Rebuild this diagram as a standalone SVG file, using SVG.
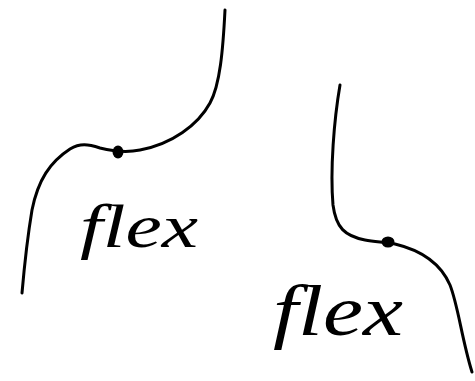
<svg xmlns="http://www.w3.org/2000/svg" width="475" height="381" viewBox="0 0 475 381">
<style>
.curve{fill:none;stroke:#000;stroke-width:3;stroke-linecap:round;stroke-linejoin:round}
.dot{fill:#000}
.lbl{font-family:"Liberation Serif","DejaVu Serif",serif;font-style:italic;fill:#000}
</style>
<rect width="475" height="381" fill="#fff"/>
<g id="sketch1">
<path class="curve" d="M225,10 C223,50 220,85 210,103 C198,125 172,144 140,150 C125,153 112,151 100,148 C88,144 80,143 70,149 C50,162 38,180 32,210 C27,240 24,270 22,293"/>
<ellipse class="dot" cx="118" cy="152" rx="5.5" ry="6.5"/>
<text class="lbl" x="80" y="247" font-size="62" textLength="118" lengthAdjust="spacingAndGlyphs">flex</text>
</g>
<g id="sketch2">
<path class="curve" d="M340,85 C334,120 330,170 333,205 C336,228 345,236 365,240 C375,242 385,242 395,244 C420,250 440,262 450,285 C458,305 462,340 472,372"/>
<ellipse class="dot" cx="388" cy="242" rx="6.5" ry="5.5"/>
<text class="lbl" x="273" y="335" font-size="72" textLength="130" lengthAdjust="spacingAndGlyphs">flex</text>
</g>
</svg>
